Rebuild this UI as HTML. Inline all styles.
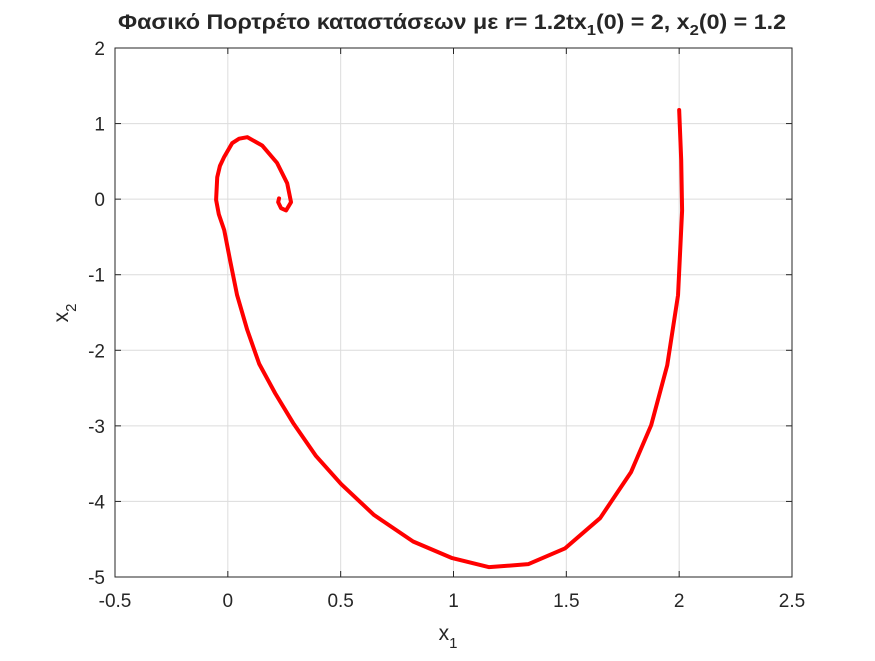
<!DOCTYPE html>
<html><head><meta charset="utf-8"><style>
body{margin:0;background:#fff}
svg text{font-family:"Liberation Sans",sans-serif;fill:#262626}
</style></head><body>
<svg id="chart" width="875" height="656" xmlns="http://www.w3.org/2000/svg">
<rect width="875" height="656" fill="#fff"/>
<g id="grid"></g><g id="axes"></g><g id="series"></g>
<text x="452" y="29" text-anchor="middle" font-size="21" font-weight="bold" fill="#000" textLength="668" lengthAdjust="spacingAndGlyphs">Φασικό Πορτρέτο καταστάσεων με r= 1.2tx<tspan font-size="15" dy="6">1</tspan><tspan dy="-6">(0) = 2, x</tspan><tspan font-size="15" dy="6">2</tspan><tspan dy="-6">(0) = 1.2</tspan></text>
<text x="448" y="640" text-anchor="middle" font-size="21">x<tspan font-size="15" dy="8">1</tspan></text>
<text transform="translate(68,313) rotate(-90)" text-anchor="middle" font-size="21">x<tspan font-size="15" dy="8">2</tspan></text>
</svg>
<script>
const xTicks=[-0.5,0,0.5,1,1.5,2,2.5];
const yTicks=[2,1,0,-1,-2,-3,-4,-5];
const x1=[2.0,2.009,2.013,1.995,1.947,1.876,1.787,1.65,1.495,1.331,1.158,0.994,0.821,0.648,0.502,0.391,0.289,0.21,0.139,0.086,0.041,0.01,-0.016,-0.04,-0.052,-0.047,-0.035,-0.016,0.019,0.05,0.086,0.152,0.218,0.263,0.28,0.258,0.236,0.223,0.227];
const x2=[1.18,0.52,-0.15,-1.27,-2.2,-2.99,-3.61,-4.22,-4.62,-4.83,-4.87,-4.75,-4.53,-4.18,-3.77,-3.4,-2.96,-2.57,-2.18,-1.73,-1.27,-0.81,-0.41,-0.2,-0.01,0.29,0.44,0.56,0.74,0.8,0.82,0.71,0.48,0.21,-0.04,-0.15,-0.12,-0.04,0.01];
const L=115,R=792,T=48,B=577,xmin=-0.5,xmax=2.5,ymin=-5,ymax=2;
const sx=v=>L+(v-xmin)/(xmax-xmin)*(R-L);
const sy=v=>B-(v-ymin)/(ymax-ymin)*(B-T);
const NS="http://www.w3.org/2000/svg";
function mk(tag,attrs,parent){const e=document.createElementNS(NS,tag);for(const k in attrs)e.setAttribute(k,attrs[k]);parent.appendChild(e);return e;}
const grid=document.getElementById('grid'),axes=document.getElementById('axes'),series=document.getElementById('series');
xTicks.forEach(t=>{
 const g=mk('line',{x1:sx(t),x2:sx(t),y1:T,y2:B,stroke:'#dcdcdc','stroke-width':1},grid);
 
 
 mk('line',{x1:sx(t),x2:sx(t),y1:B,y2:B-6,stroke:'#262626'},axes);
 mk('line',{x1:sx(t),x2:sx(t),y1:T,y2:T+6,stroke:'#262626'},axes);
 const l=mk('text',{x:sx(t),y:B+30,'text-anchor':'middle','font-size':'19'},axes);
 l.textContent=t;
 
 
});
yTicks.forEach(t=>{
 const g=mk('line',{x1:L,x2:R,y1:sy(t),y2:sy(t),stroke:'#dcdcdc','stroke-width':1},grid);
 
 
 mk('line',{x1:L,x2:L+6,y1:sy(t),y2:sy(t),stroke:'#262626'},axes);
 mk('line',{x1:R,x2:R-6,y1:sy(t),y2:sy(t),stroke:'#262626'},axes);
 const l=mk('text',{x:L-10,y:sy(t)+7,'text-anchor':'end','font-size':'19'},axes);
 l.textContent=t;
 
 
});
const box=mk('rect',{x:L,y:T,width:R-L,height:B-T,fill:'none',stroke:'#262626','stroke-width':1},axes);


const p=mk('polyline',{points:x1.map((v,i)=>sx(v)+','+sy(x2[i])).join(' '),fill:'none',stroke:'#ff0000','stroke-width':4,'stroke-linejoin':'round','stroke-linecap':'round'},series);


</script>
</body></html>
